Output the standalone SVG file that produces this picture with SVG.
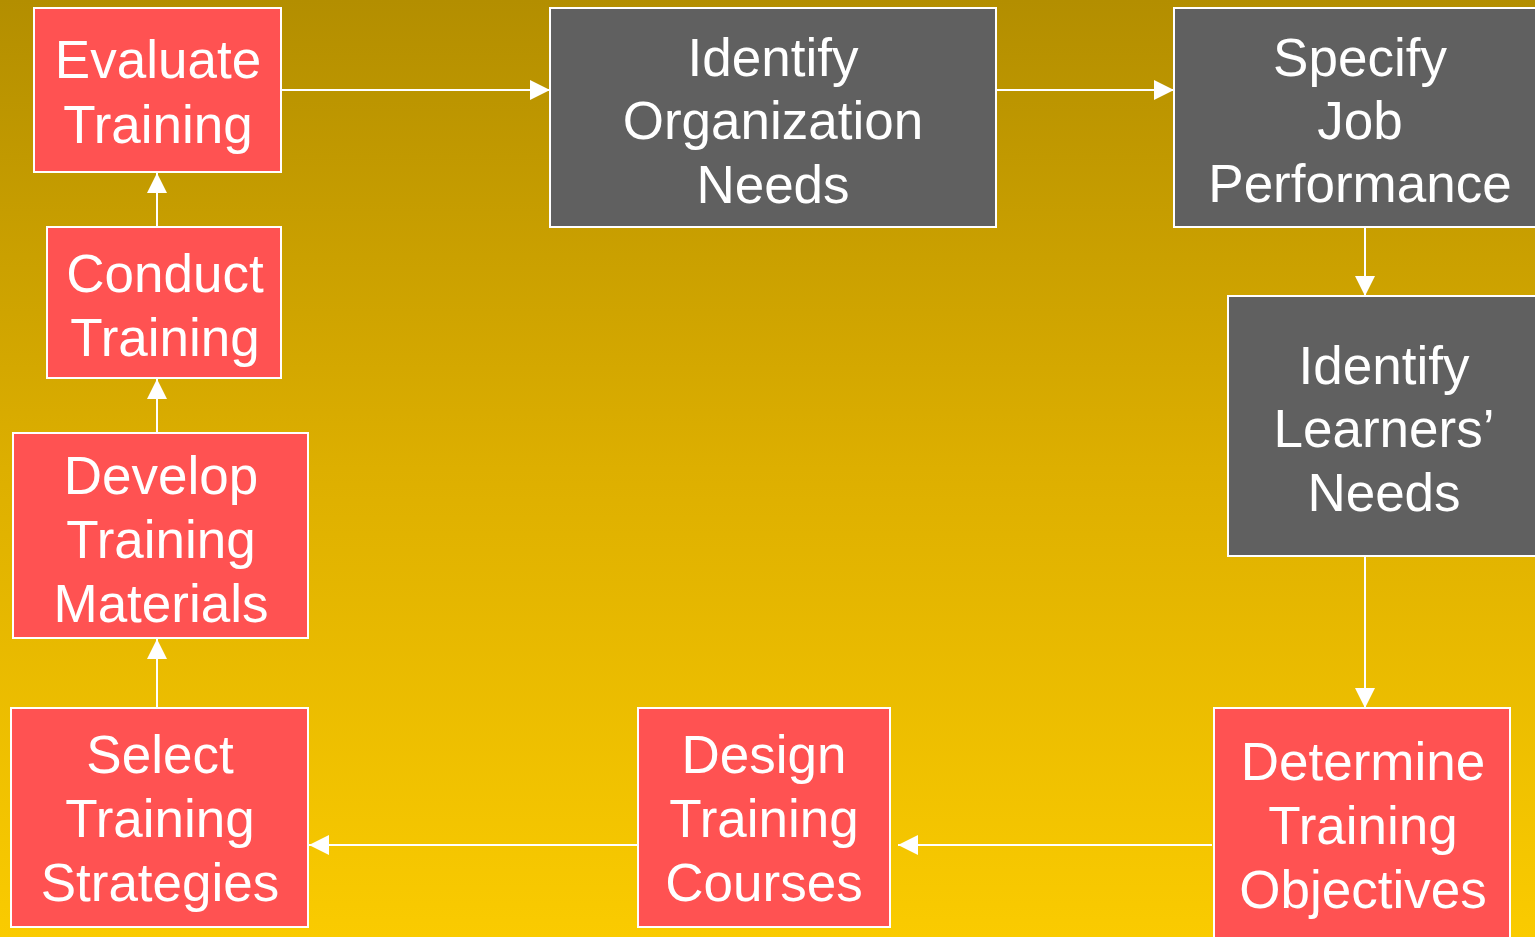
<svg xmlns="http://www.w3.org/2000/svg" width="1535" height="937" viewBox="0 0 1535 937">
<defs>
<linearGradient id="bg" x1="0" y1="0" x2="0" y2="1">
<stop offset="0" stop-color="#B38E00"/>
<stop offset="0.5" stop-color="#DDAF00"/>
<stop offset="1" stop-color="#FACB00"/>
</linearGradient>
<marker id="ah" viewBox="0 0 20 20" refX="20" refY="10" markerWidth="20" markerHeight="20" markerUnits="userSpaceOnUse" orient="auto">
<path d="M0,0 L20,10 L0,20 Z" fill="#FFFFFF"/>
</marker>
<style>
.red{fill:#FF5252;stroke:#FFFFFF;stroke-width:2}
.gray{fill:#606060;stroke:#FFFFFF;stroke-width:2}
.t{font-family:"Liberation Sans",Arial,sans-serif;font-size:53px;fill:#FFFFFF;text-anchor:middle}
.c{stroke:#FFFFFF;stroke-width:2;fill:none;marker-end:url(#ah)}
</style>
</defs>
<rect x="0" y="0" width="1535" height="937" fill="url(#bg)"/>
<g id="connectors">
<line class="c" x1="282" y1="90" x2="550" y2="90"/>
<line class="c" x1="997" y1="90" x2="1174" y2="90"/>
<line class="c" x1="1365" y1="228" x2="1365" y2="296"/>
<line class="c" x1="1365" y1="557" x2="1365" y2="708"/>
<line class="c" x1="1212" y1="845" x2="898" y2="845"/>
<line class="c" x1="637" y1="845" x2="309" y2="845"/>
<line class="c" x1="157" y1="707" x2="157" y2="639"/>
<line class="c" x1="157" y1="432" x2="157" y2="379"/>
<line class="c" x1="157" y1="226" x2="157" y2="173"/>
</g>
<g id="evaluate">
<rect class="red" x="34" y="8" width="247" height="164"/>
<text class="t"><tspan x="158" y="78">Evaluate</tspan><tspan x="158" y="143">Training</tspan></text>
</g>
<g id="identify-org">
<rect class="gray" x="550" y="8" width="446" height="219"/>
<text class="t"><tspan x="773" y="76">Identify</tspan><tspan x="773" y="139">Organization</tspan><tspan x="773" y="203">Needs</tspan></text>
</g>
<g id="specify">
<rect class="gray" x="1174" y="8" width="370" height="219"/>
<text class="t"><tspan x="1360" y="76">Specify</tspan><tspan x="1360" y="139">Job</tspan><tspan x="1360" y="202">Performance</tspan></text>
</g>
<g id="learners">
<rect class="gray" x="1228" y="296" width="316" height="260"/>
<text class="t"><tspan x="1384" y="384">Identify</tspan><tspan x="1384" y="447">Learners’</tspan><tspan x="1384" y="511">Needs</tspan></text>
</g>
<g id="determine">
<rect class="red" x="1214" y="708" width="296" height="240"/>
<text class="t"><tspan x="1363" y="780">Determine</tspan><tspan x="1363" y="844">Training</tspan><tspan x="1363" y="908">Objectives</tspan></text>
</g>
<g id="design">
<rect class="red" x="638" y="708" width="252" height="219"/>
<text class="t"><tspan x="764" y="773">Design</tspan><tspan x="764" y="837">Training</tspan><tspan x="764" y="901">Courses</tspan></text>
</g>
<g id="select">
<rect class="red" x="11" y="708" width="297" height="219"/>
<text class="t"><tspan x="160" y="773">Select</tspan><tspan x="160" y="837">Training</tspan><tspan x="160" y="901">Strategies</tspan></text>
</g>
<g id="develop">
<rect class="red" x="13" y="433" width="295" height="205"/>
<text class="t"><tspan x="161" y="494">Develop</tspan><tspan x="161" y="558">Training</tspan><tspan x="161" y="622">Materials</tspan></text>
</g>
<g id="conduct">
<rect class="red" x="47" y="227" width="234" height="151"/>
<text class="t"><tspan x="165" y="292">Conduct</tspan><tspan x="165" y="356">Training</tspan></text>
</g>
</svg>
